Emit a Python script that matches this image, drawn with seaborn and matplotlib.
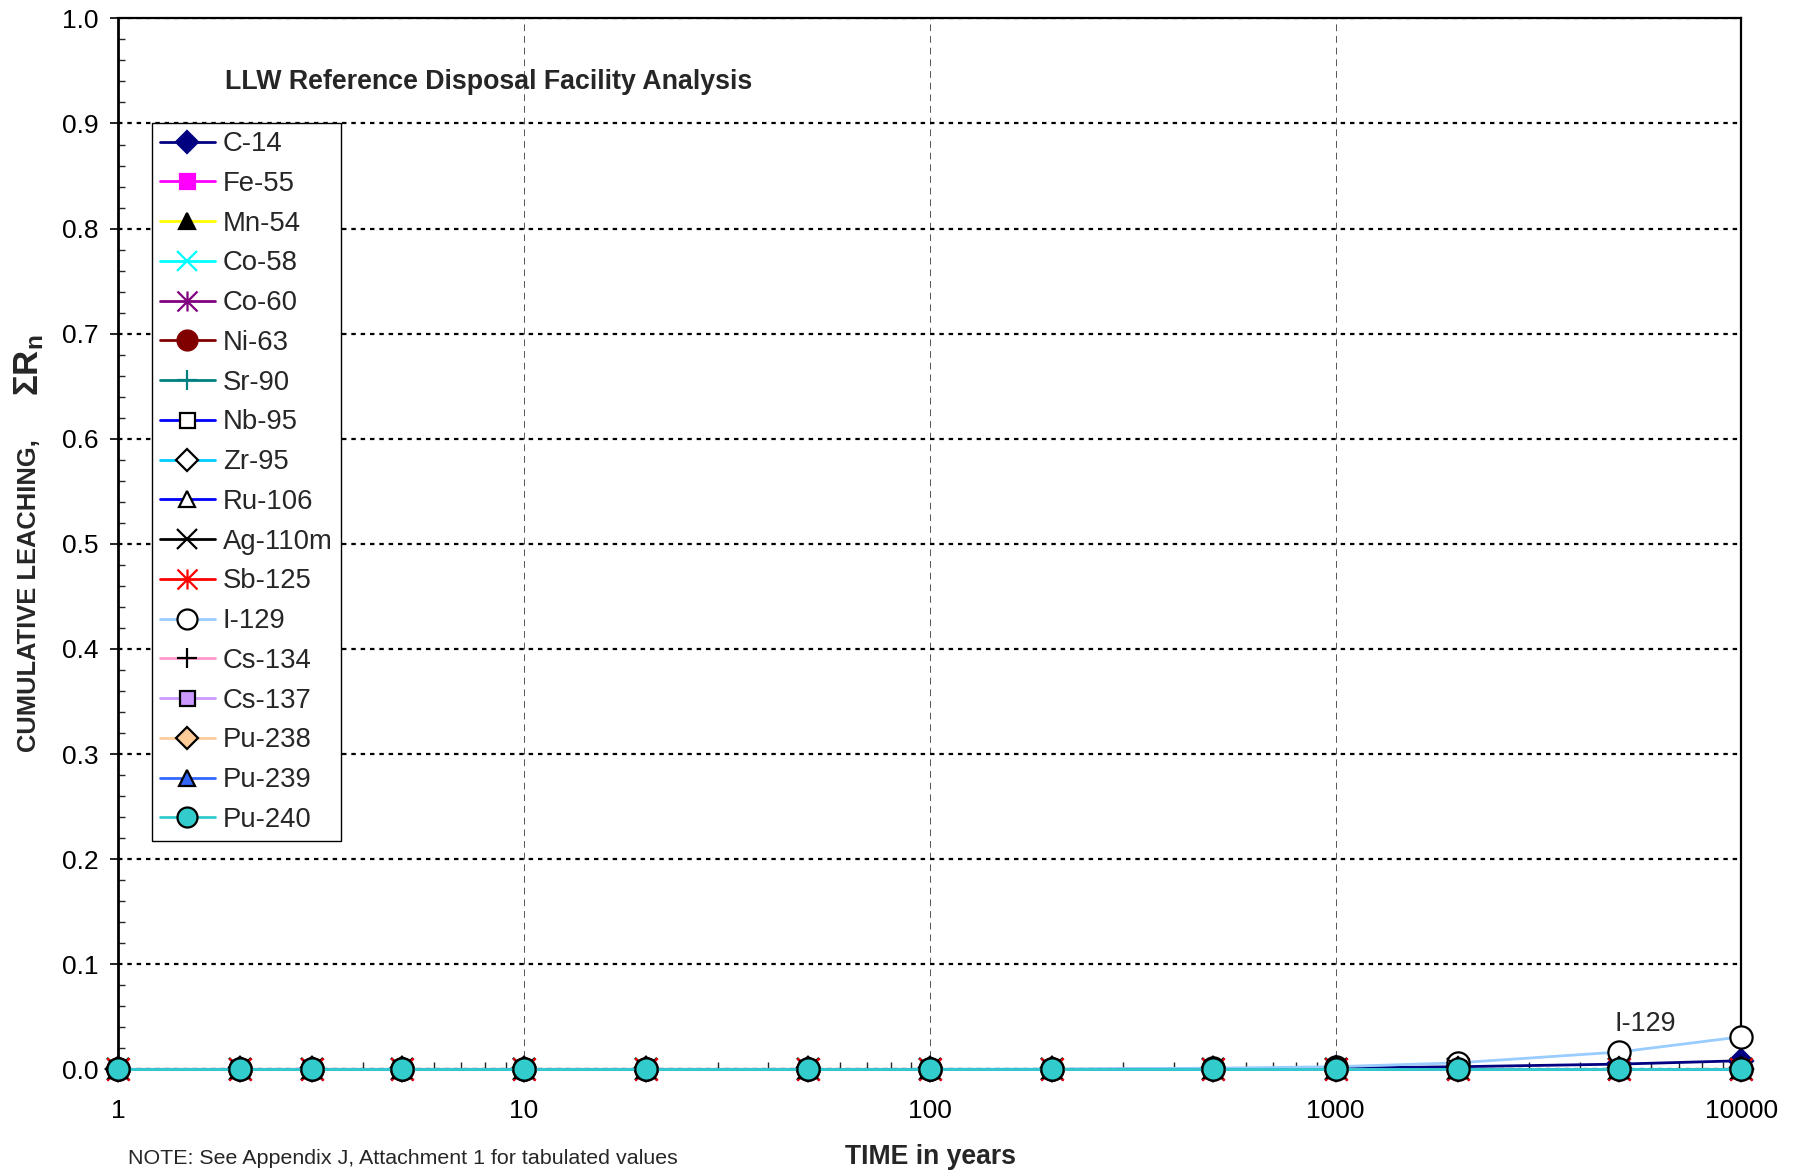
import matplotlib
matplotlib.use("Agg")
import matplotlib.pyplot as plt
from matplotlib.path import Path
from matplotlib.ticker import MultipleLocator, LogLocator, NullFormatter
import pandas as pd
import seaborn as sns

# ---- data -------------------------------------------------------------
years = [1, 2, 3, 5, 10, 20, 50, 100, 200, 500, 1000, 2000, 5000, 10000]

nuclides = ["C-14", "Fe-55", "Mn-54", "Co-58", "Co-60", "Ni-63", "Sr-90",
            "Nb-95", "Zr-95", "Ru-106", "Ag-110m", "Sb-125", "I-129",
            "Cs-134", "Cs-137", "Pu-238", "Pu-239", "Pu-240"]

c14    = [0, 0, 0, 0, 0, 0, 0, 0, 0, 0.0003, 0.0012, 0.0025, 0.0050, 0.0082]
fe55   = [0, 0, 0, 0, 0, 0, 0, 0, 0, 0, 0, 0, 0, 0]
mn54   = [0, 0, 0, 0, 0, 0, 0, 0, 0, 0, 0, 0, 0, 0]
co58   = [0, 0, 0, 0, 0, 0, 0, 0, 0, 0, 0, 0, 0, 0]
co60   = [0, 0, 0, 0, 0, 0, 0, 0, 0, 0, 0, 0, 0, 0]
ni63   = [0, 0, 0, 0, 0, 0, 0, 0, 0, 0, 0, 0, 0, 0]
sr90   = [0, 0, 0, 0, 0, 0, 0, 0, 0, 0, 0, 0, 0, 0]
nb95   = [0, 0, 0, 0, 0, 0, 0, 0, 0, 0, 0, 0, 0, 0]
zr95   = [0, 0, 0, 0, 0, 0, 0, 0, 0, 0, 0, 0, 0, 0]
ru106  = [0, 0, 0, 0, 0, 0, 0, 0, 0, 0, 0, 0, 0, 0]
ag110m = [0, 0, 0, 0, 0, 0, 0, 0, 0, 0, 0, 0, 0, 0]
sb125  = [0, 0, 0, 0, 0, 0, 0, 0, 0, 0, 0, 0, 0, 0]
i129   = [0, 0, 0, 0, 0, 0, 0, 0, 0.0002, 0.0011, 0.0025, 0.0062, 0.0165, 0.0310]
cs134  = [0, 0, 0, 0, 0, 0, 0, 0, 0, 0, 0, 0, 0, 0]
cs137  = [0, 0, 0, 0, 0, 0, 0, 0, 0, 0, 0, 0, 0, 0]
pu238  = [0, 0, 0, 0, 0, 0, 0, 0, 0, 0, 0, 0, 0, 0]
pu239  = [0, 0, 0, 0, 0, 0, 0, 0, 0, 0, 0, 0, 0, 0]
pu240  = [0, 0, 0, 0, 0, 0, 0, 0, 0, 0, 0, 0, 0, 0]

series_values = [c14, fe55, mn54, co58, co60, ni63, sr90, nb95, zr95, ru106,
                 ag110m, sb125, i129, cs134, cs137, pu238, pu239, pu240]

x_ticks = [1, 10, 100, 1000, 10000]
x_tick_labels = ["1", "10", "100", "1000", "10000"]
y_ticks = [0.0, 0.1, 0.2, 0.3, 0.4, 0.5, 0.6, 0.7, 0.8, 0.9, 1.0]
y_tick_labels = ["0.0", "0.1", "0.2", "0.3", "0.4", "0.5", "0.6", "0.7",
                 "0.8", "0.9", "1.0"]

# ---- styling ----------------------------------------------------------
sns.set_style("white")
plt.rcParams["font.family"] = ["Liberation Sans", "DejaVu Sans"]
plt.rcParams["mathtext.fontset"] = "custom"
plt.rcParams["mathtext.rm"] = "Liberation Sans"
plt.rcParams["mathtext.bf"] = "Liberation Sans:bold"
plt.rcParams["mathtext.it"] = "Liberation Sans:italic"

# six-armed asterisk: vertical bar plus an X
asterisk = Path([(0, -1), (0, 1), (-1, -1), (1, 1), (-1, 1), (1, -1)],
                [Path.MOVETO, Path.LINETO, Path.MOVETO, Path.LINETO,
                 Path.MOVETO, Path.LINETO])

# line colour, marker, marker face, marker edge
styles = {
    "C-14":    ("#000080", "D", "#000080", "#000080"),
    "Fe-55":   ("#FF00FF", "s", "#FF00FF", "#FF00FF"),
    "Mn-54":   ("#FFFF00", "^", "#000000", "#000000"),
    "Co-58":   ("#00FFFF", "x", "#00FFFF", "#00FFFF"),
    "Co-60":   ("#800080", asterisk, "#800080", "#800080"),
    "Ni-63":   ("#800000", "o", "#800000", "#800000"),
    "Sr-90":   ("#008080", "+", "#008080", "#008080"),
    "Nb-95":   ("#0000FF", "s", "#FFFFFF", "#000000"),
    "Zr-95":   ("#00CCFF", "D", "#FFFFFF", "#000000"),
    "Ru-106":  ("#0000FF", "^", "#FFFFFF", "#000000"),
    "Ag-110m": ("#000000", "x", "#000000", "#000000"),
    "Sb-125":  ("#FF0000", asterisk, "#FF0000", "#FF0000"),
    "I-129":   ("#99CCFF", "o", "#FFFFFF", "#000000"),
    "Cs-134":  ("#FF99CC", "+", "#000000", "#000000"),
    "Cs-137":  ("#CC99FF", "s", "#CC99FF", "#000000"),
    "Pu-238":  ("#FFCC99", "D", "#FFCC99", "#000000"),
    "Pu-239":  ("#3366FF", "^", "#3366FF", "#000000"),
    "Pu-240":  ("#33CCCC", "o", "#33CCCC", "#000000"),
}
marker_sizes = {"D": 12, "s": 12, "^": 13}

fig = plt.figure(figsize=(18.01, 11.71), dpi=100)
ax = fig.add_axes([0.0657, 0.0868, 0.9012, 0.8975])
ax.set_xscale("log")

for name, vals in zip(nuclides, series_values):
    lc, mk, fc, ec = styles[name]
    df = pd.DataFrame({"years": years, "leaching": vals})
    ms = marker_sizes.get(mk, 16) if isinstance(mk, str) else 16
    sns.lineplot(data=df, x="years", y="leaching", ax=ax, estimator=None,
                 color=lc, linewidth=2, marker=mk, markersize=ms,
                 markerfacecolor=fc, markeredgecolor=ec, markeredgewidth=1.6,
                 label=name, clip_on=False, zorder=3)

ax.set_xlim(1, 10000)
ax.set_ylim(0, 1.0)

ax.set_xticks(x_ticks)
ax.set_xticklabels(x_tick_labels, fontsize=19)
ax.xaxis.set_minor_locator(LogLocator(base=10, subs=range(2, 10)))
ax.xaxis.set_minor_formatter(NullFormatter())
ax.set_yticks(y_ticks)
ax.set_yticklabels(y_tick_labels, fontsize=19)
ax.yaxis.set_minor_locator(MultipleLocator(0.02))

ax.tick_params(axis="y", which="major", direction="out", length=6, width=1.2,
               pad=8, colors="black", left=True)
ax.tick_params(axis="y", which="minor", direction="in", length=5, width=1,
               left=True)
ax.tick_params(axis="x", which="major", direction="out", length=0, pad=21,
               colors="black", bottom=True)
ax.tick_params(axis="x", which="minor", direction="in", length=5, width=1,
               bottom=True)

ax.set_axisbelow(True)
ax.yaxis.grid(True, which="major", color="black", linestyle=(0, (2, 2.2)),
              linewidth=1.6)
ax.xaxis.grid(True, which="major", color="#555555", linestyle=(0, (7, 5)),
              linewidth=0.7)

for side, lw in (("left", 2.0), ("top", 1.6), ("right", 1.6), ("bottom", 1.0)):
    ax.spines[side].set_visible(True)
    ax.spines[side].set_color("black")
    ax.spines[side].set_linewidth(lw)

ax.set_xlabel("")
ax.set_ylabel("")

handles, labels = ax.get_legend_handles_labels()
leg = ax.legend(handles, labels, loc="upper left",
                bbox_to_anchor=(0.0205, 0.9005), borderaxespad=0,
                frameon=True, fancybox=False, framealpha=1,
                edgecolor="black", fontsize=19.8, handlelength=2.0,
                handletextpad=0.29, borderpad=0.3, labelspacing=0.5,
                markerscale=0.9)
leg.get_frame().set_linewidth(1.0)
leg.set_zorder(5)

ax.text(0.0658, 0.939, "LLW Reference Disposal Facility Analysis",
        transform=ax.transAxes, fontsize=19.3, fontweight="bold",
        ha="left", va="center")

ax.annotate("I-129", xy=(years[-2], i129[-2]), xytext=(19, 20.5),
            textcoords="offset points", fontsize=19.4, ha="center",
            va="center")

fig.text(0.5165, 1 - 1156.5 / 1171, "TIME in years", fontsize=19.2,
         fontweight="bold", ha="center", va="center")
fig.text(29 / 1801, 1 - 752 / 1171, "CUMULATIVE LEACHING,", fontsize=18.4,
         fontweight="bold", rotation=90, ha="center", va="bottom")
fig.text(29 / 1801, 1 - 396 / 1171, r"$\mathbf{\Sigma R_n}$", fontsize=25,
         rotation=90, ha="center", va="bottom")
fig.text(127.5 / 1801, 1 - 1158.5 / 1171,
         "NOTE: See Appendix J, Attachment 1 for tabulated values",
         fontsize=15.4, ha="left", va="center")

fig.savefig("out.png", dpi=100, facecolor="white")
